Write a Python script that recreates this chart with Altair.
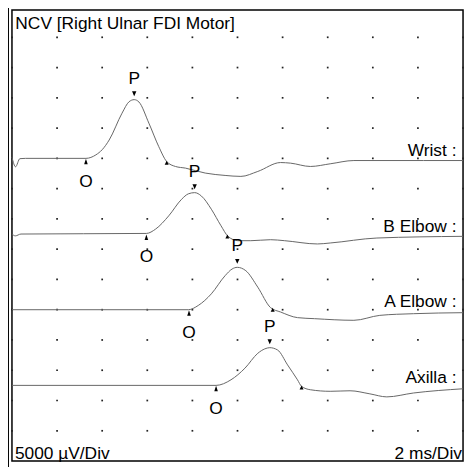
import altair as alt
import pandas as pd
import numpy as np

FONT = "Liberation Sans"
UV_PER_DIV = 5000          # 5000 µV/Div
MS_PER_DIV = 2             # 2 ms/Div
N_XDIV = 10
N_YDIV = 15

TRACES = ["Wrist", "B Elbow", "A Elbow", "Axilla"]
BASELINE_DIV = [5.0, 7.5, 10.0, 12.5]      # baseline of each trace, divisions from top

# waveform samples: time (ms) and amplitude (µV, positive up)
wrist_ms = [0.0, 0.16, 0.35, 0.6, 3.28, 3.72, 4.0, 4.31, 4.88, 5.19, 5.42, 5.63, 6.07,
            6.51, 6.86, 7.25, 7.69, 8.57, 9.45, 10.15, 10.9, 11.91, 12.35, 13.23, 14.11,
            15.16, 18.24, 20.0]
wrist_uv = [200, -1390, -50, 0, 0, 575, 1430, 3030, 7460, 9350, 9700, 9310, 5820,
            1930, -525, -1340, -1610, -2430, -2820, -2980, -2160, -690, -790, -1340, -900,
            -360, -360, -360]

belbow_ms = [0.0, 0.15, 0.4, 5.96, 6.37, 6.95, 7.52, 7.82, 8.10, 8.40, 8.84, 9.27, 9.58,
             10.02, 10.59, 11.47, 12.09, 13.54, 14.11, 16.18, 20.0]
belbow_uv = [0, -300, 0, 100, 820, 3000, 5740, 6640, 6840, 6280, 4100, 1360, -380,
             -1100, -1100, -935, -1100, -1640, -1480, -660, -380]

aelbow_ms = [0.0, 7.82, 8.26, 8.84, 9.45, 9.76, 9.99, 10.37, 10.90, 11.47, 11.91, 12.66,
             13.41, 15.16, 16.31, 17.80, 20.0]
aelbow_uv = [0, 0, 700, 2620, 5620, 6720, 7000, 6440, 3720, 330, -380, -1310,
             -1480, -1750, -935, -660, -490]

axilla_ms = [0.0, 9.05, 9.71, 10.33, 10.90, 11.21, 11.43, 11.78, 12.22, 12.66, 12.84,
             13.23, 14.11, 14.99, 15.87, 16.62, 17.80, 20.0]
axilla_uv = [0, 0, 920, 2840, 5300, 6030, 6230, 5840, 3380, 920, -160,
             -720, -980, -890, -1400, -1900, -1260, -560]

ONSET_MS = [3.28, 5.96, 7.85, 9.05]
PEAK_MS = [5.42, 8.10, 9.99, 11.43]
END_MS = [6.86, 9.55, 11.56, 12.84]

TITLE = "NCV [Right Ulnar FDI Motor]"
SENS_LABEL = "5000 µV/Div"
SWEEP_LABEL = "2 ms/Div"

series = [(wrist_ms, wrist_uv), (belbow_ms, belbow_uv),
          (aelbow_ms, aelbow_uv), (axilla_ms, axilla_uv)]

# ---- tables -------------------------------------------------------------
wave_rows, onset_rows, peak_rows, end_rows, name_rows = [], [], [], [], []
for name, base, (ts, uvs), o, p, e in zip(TRACES, BASELINE_DIV, series,
                                           ONSET_MS, PEAK_MS, END_MS):
    for t, uv in zip(ts, uvs):
        wave_rows.append({"trace": name, "t": t, "pos": base - uv / UV_PER_DIV})
    def at(tt):
        return base - float(np.interp(tt, ts, uvs)) / UV_PER_DIV
    onset_rows.append({"trace": name, "t": o, "pos": base, "label": "O"})
    peak_rows.append({"trace": name, "t": p, "pos": at(p), "label": "P"})
    end_rows.append({"trace": name, "t": e, "pos": at(e)})
    name_rows.append({"trace": name, "t": 19.71, "pos": base, "label": name + " :"})

wave = pd.DataFrame(wave_rows)
onsets = pd.DataFrame(onset_rows)
peaks = pd.DataFrame(peak_rows)
ends = pd.DataFrame(end_rows)
names = pd.DataFrame(name_rows)

grid = pd.DataFrame([{"t": i * MS_PER_DIV, "pos": j}
                     for i in range(N_XDIV + 1) for j in range(1, N_YDIV)])

frame_text = pd.DataFrame([
    {"t": 0.15, "pos": 0.73, "label": TITLE},
    {"t": 0.13, "pos": 14.93, "label": SENS_LABEL},
])
frame_text_r = pd.DataFrame([
    {"t": 19.95, "pos": 14.93, "label": SWEEP_LABEL},
])

# ---- encodings ------------------------------------------------------------
X = alt.X("t:Q", scale=alt.Scale(domain=[0, N_XDIV * MS_PER_DIV], nice=False, zero=False),
          axis=None)
Y = alt.Y("pos:Q", scale=alt.Scale(domain=[0.098, N_YDIV], nice=False, zero=False,
                                   reverse=True), axis=None)

dots = alt.Chart(grid).mark_square(size=3, color="#222", opacity=1).encode(x=X, y=Y)

lines = alt.Chart(wave).mark_line(color="#666666", strokeWidth=1,
                                  interpolate="monotone").encode(
    x=X, y=Y, detail="trace:N", order="t:Q")

tri_up_o = "M -1.8 6 L 1.8 6 L 0 0.5 Z"
tri_dn_p = "M -2.2 -8.5 L 2.2 -8.5 L 0 -3.5 Z"
tri_up_e = "M -2 3.2 L 2 3.2 L 0 -0.8 Z"

m_on = alt.Chart(onsets).mark_point(shape=tri_up_o, size=4, filled=True, color="black",
                                    opacity=1, strokeWidth=0).encode(x=X, y=Y)
m_pk = alt.Chart(peaks).mark_point(shape=tri_dn_p, size=4, filled=True, color="black",
                                   opacity=1, strokeWidth=0).encode(x=X, y=Y)
m_end = alt.Chart(ends).mark_point(shape=tri_up_e, size=4, filled=True, color="black",
                                   opacity=1, strokeWidth=0).encode(x=X, y=Y)

txt = dict(font=FONT, fontSize=17.5, color="black", baseline="alphabetic")
t_on = alt.Chart(onsets).mark_text(align="center", dy=28.5, **txt).encode(
    x=X, y=Y, text="label:N")
t_pk = alt.Chart(peaks).mark_text(align="center", dy=-16, **txt).encode(
    x=X, y=Y, text="label:N")
t_nm = alt.Chart(names).mark_text(align="right", dy=-2.5, **txt).encode(
    x=X, y=Y, text="label:N")
t_fl = alt.Chart(frame_text).mark_text(align="left", **txt).encode(
    x=X, y=Y, text="label:N")
t_fr = alt.Chart(frame_text_r).mark_text(align="right", **txt).encode(
    x=X, y=Y, text="label:N")

side = alt.Chart(pd.DataFrame({"a": [0]})).mark_rule(color="black", strokeWidth=1).encode(
    x=alt.value(-3.5), y=alt.value(-10), y2=alt.value(470))

chart = alt.layer(side, dots, lines, m_on, m_pk, m_end, t_on, t_pk, t_nm, t_fl, t_fr).properties(
    width=455, height=455,
    padding={"left": 4, "top": 0, "right": 4, "bottom": 4},
    autosize=alt.AutoSizeParams(type="none"),
    background="white",
).configure_view(stroke="black", strokeWidth=1.5, fill="white")

chart.save("out.html", embed_options={"renderer": "svg", "actions": False})
